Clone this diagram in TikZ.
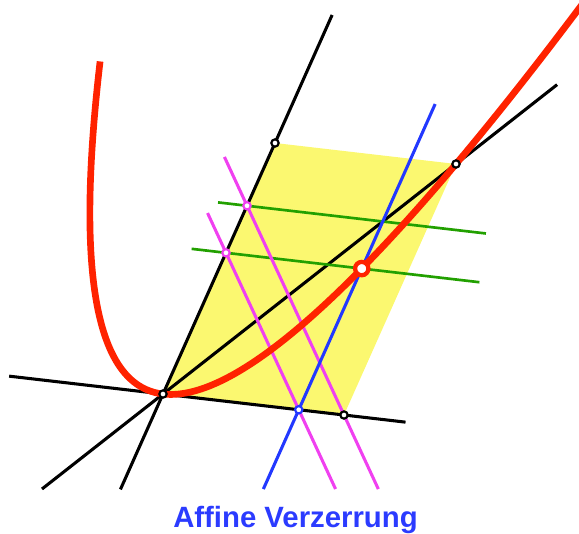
\documentclass[tikz,border=0pt]{standalone}
\usepackage{fontspec}
\newfontfamily\labelfont{Liberation Sans}
\usetikzlibrary{calc}
\definecolor{AffYellow}{HTML}{FBF870}
\definecolor{AffRed}{HTML}{FF2200}
\definecolor{AffGreen}{HTML}{22A000}
\definecolor{AffPink}{HTML}{F040F0}
\definecolor{AffBlue}{HTML}{2238FF}
\definecolor{AffLabel}{HTML}{2B3BFF}
\begin{document}
\begin{tikzpicture}[x=0.75pt,y=-0.75pt]
    \tikzset{axisline/.style={line width=2.3pt,black},
      greenline/.style={line width=2pt,AffGreen},
      pinkline/.style={line width=2.3pt,AffPink},
      blueline/.style={line width=2.3pt,AffBlue},
      parabola/.style={line width=5pt,AffRed},
      dot/.style={circle,draw,fill=white,line width=1.6pt,inner sep=0pt,minimum size=5.5pt},
      bigdot/.style={circle,draw=AffRed,fill=white,line width=3.2pt,inner sep=0pt,minimum size=10pt}}
    \useasboundingbox (0,0) rectangle (579,533);
    \clip (0,0) rectangle (579,533);
    \coordinate (O) at (163,394);
    \begin{scope}[shift={(O)},x={(135.75pt,-15.75pt)},y={(84pt,188.25pt)}]
      \coordinate (u1) at (1,0);
      \coordinate (v1) at (0,1);
      \coordinate (d1) at (1,1);
      \coordinate (u34) at (0.75,0);
      \coordinate (v34) at (0,0.75);
      \coordinate (v916) at (0,0.5625);
      \coordinate (R) at (0.75,0.5625);
      \coordinate (ulo) at (-0.85,0);
      \coordinate (uhi) at (1.34,0);
      \coordinate (vlo) at (0,-0.38);
      \coordinate (vhi) at (0,1.51);
      \coordinate (dlo) at (-0.413,-0.413);
      \coordinate (dhi) at (1.345,1.345);
      \coordinate (ga) at (-0.16,0.75);
      \coordinate (gb) at (1.32,0.75);
      \coordinate (gc) at (-0.19,0.5625);
      \coordinate (gd) at (1.40,0.5625);
      \coordinate (pa) at (-0.233,0.925);
      \coordinate (pb) at (1.354,-0.2655);
      \coordinate (pc) at (-0.19,0.705);
      \coordinate (pd) at (1.129,-0.284);
      \coordinate (bl) at (0.75,-0.316);
      \coordinate (bh) at (0.75,1.218);
      \fill[AffYellow] (O) -- (u1) -- (d1) -- (v1) -- cycle;
      \draw[axisline] (ulo) -- (uhi);
      \draw[axisline] (vlo) -- (vhi);
      \draw[axisline] (dlo) -- (dhi);
      \draw[greenline] (ga) -- (gb);
      \draw[greenline] (gc) -- (gd);
      \draw[pinkline] (pa) -- (pb);
      \draw[pinkline] (pc) -- (pd);
      \draw[blueline] (bl) -- (bh);
      \draw[parabola] plot[domain=-1.11:1.30,samples=90,smooth] (\x,{\x*\x});
    \end{scope}
    \node[dot] (o) at (O) {};
    \node[dot] (e1) at (u1) {};
    \node[dot] (e2) at (v1) {};
    \node[dot] (dd) at (d1) {};
    \node[dot,draw=AffPink] (p1) at (v34) {};
    \node[dot,draw=AffPink] (p2) at (v916) {};
    \node[dot,draw=AffBlue] (q) at (u34) {};
    \node[bigdot] (r) at (R) {};
    \node[anchor=base,text=AffLabel,font=\labelfont\bfseries\fontsize{22}{26}\selectfont] (title) at (295.5,527) {Affine Verzerrung};
\end{tikzpicture}
\end{document}
